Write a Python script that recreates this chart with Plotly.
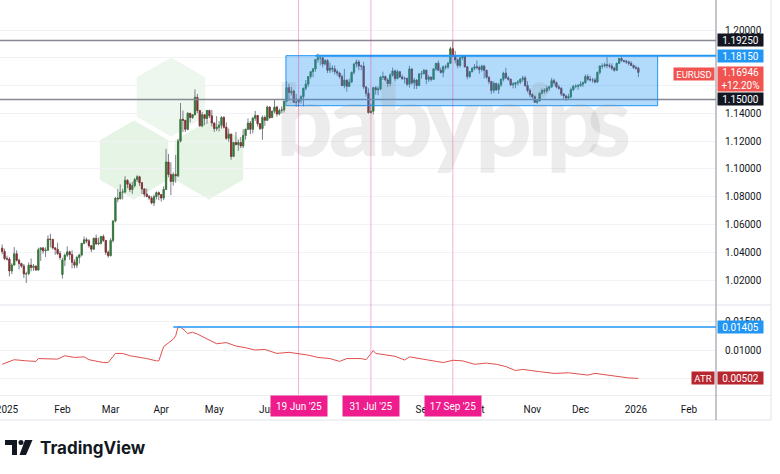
import pandas as pd
import plotly.graph_objects as go

# ---------------- data (EURUSD daily) ----------------
bar_dates = pd.bdate_range("2024-12-30", "2026-01-02")
first_open = 1.0430
gap_opens = {"2025-02-03": 1.0240}

high = [
    1.0456, 1.0425,
    1.0375, 1.0365, 1.0321, 1.0437, 1.0414, 1.0354, 1.0324, 1.0315, 1.0260, 1.0326, 1.0355, 1.0316, 1.0305, 1.0433, 1.0435, 1.0437, 1.0435, 1.0521, 1.0533, 1.0497, 1.0438, 1.0468, 1.0410,
    1.0360, 1.0391, 1.0442, 1.0411, 1.0414, 1.0348, 1.0375, 1.0389, 1.0466, 1.0513, 1.0505, 1.0495, 1.0452, 1.0506, 1.0528, 1.0506, 1.0518, 1.0528, 1.0485, 1.0413,
    1.0500, 1.0630, 1.0796, 1.0854, 1.0888, 1.0856, 1.0947, 1.0925, 1.0903, 1.0906, 1.0935, 1.0955, 1.0951, 1.0905, 1.0862, 1.0859, 1.0812, 1.0805, 1.0815, 1.0838, 1.0838,
    1.0820, 1.0875, 1.1144, 1.1107, 1.1048, 1.0975, 1.1100, 1.1215, 1.1474, 1.1420, 1.1350, 1.1409, 1.1402, 1.1395, 1.1573, 1.1540, 1.1425, 1.1410, 1.1395, 1.1424, 1.1425, 1.1425,
    1.1335, 1.1380, 1.1345, 1.1380, 1.1380, 1.1335, 1.1290, 1.1250, 1.1195, 1.1266, 1.1210, 1.1230, 1.1285, 1.1290, 1.1363, 1.1345, 1.1375, 1.1418, 1.1388, 1.1330, 1.1385, 1.1385,
    1.1455, 1.1450, 1.1420, 1.1495, 1.1455, 1.1435, 1.1450, 1.1490, 1.1631, 1.1613, 1.1590, 1.1570, 1.1540, 1.1500, 1.1530, 1.1585, 1.1640, 1.1665, 1.1705, 1.1725, 1.1790,
    1.1830, 1.1810, 1.1800, 1.1790, 1.1790, 1.1765, 1.1745, 1.1745, 1.1715, 1.1700, 1.1680, 1.1720, 1.1640, 1.1650, 1.1700, 1.1760, 1.1788, 1.1785, 1.1750, 1.1770, 1.1595, 1.1580, 1.1470,
    1.1590, 1.1595, 1.1595, 1.1670, 1.1700, 1.1672, 1.1655, 1.1690, 1.1730, 1.1715, 1.1715, 1.1700, 1.1680, 1.1665, 1.1660, 1.1742, 1.1720, 1.1655, 1.1645, 1.1690, 1.1705,
    1.1720, 1.1715, 1.1675, 1.1665, 1.1725, 1.1760, 1.1780, 1.1730, 1.1745, 1.1750, 1.1770, 1.1878, 1.1918, 1.1850, 1.1795, 1.1805, 1.1820, 1.1818, 1.1740, 1.1705, 1.1730, 1.1755,
    1.1780, 1.1745, 1.1750, 1.1750, 1.1710, 1.1665, 1.1630, 1.1630, 1.1620, 1.1620, 1.1650, 1.1700, 1.1728, 1.1670, 1.1650, 1.1625, 1.1625, 1.1640, 1.1650, 1.1670, 1.1670, 1.1630, 1.1580,
    1.1545, 1.1530, 1.1500, 1.1550, 1.1580, 1.1580, 1.1600, 1.1600, 1.1655, 1.1650, 1.1630, 1.1605, 1.1590, 1.1545, 1.1535, 1.1540, 1.1585, 1.1605, 1.1610, 1.1610,
    1.1630, 1.1630, 1.1680, 1.1680, 1.1670, 1.1655, 1.1655, 1.1700, 1.1745, 1.1760, 1.1765, 1.1805, 1.1760, 1.1760, 1.1735, 1.1765, 1.1800, 1.1808, 1.1785, 1.1785, 1.1780, 1.1775, 1.1750,
    1.1745, 1.1735,
]
low = [
    1.0385, 1.0343,
    1.0340, 1.0226, 1.0242, 1.0303, 1.0333, 1.0276, 1.0287, 1.0214, 1.0178, 1.0235, 1.0262, 1.0267, 1.0267, 1.0265, 1.0338, 1.0390, 1.0366, 1.0410, 1.0435, 1.0420, 1.0381, 1.0380, 1.0345,
    1.0210, 1.0300, 1.0365, 1.0345, 1.0285, 1.0285, 1.0285, 1.0318, 1.0370, 1.0458, 1.0465, 1.0433, 1.0400, 1.0418, 1.0454, 1.0450, 1.0456, 1.0474, 1.0380, 1.0360,
    1.0370, 1.0470, 1.0615, 1.0760, 1.0780, 1.0780, 1.0822, 1.0860, 1.0833, 1.0820, 1.0866, 1.0906, 1.0876, 1.0818, 1.0797, 1.0795, 1.0777, 1.0745, 1.0733, 1.0780, 1.0775,
    1.0765, 1.0775, 1.0850, 1.0940, 1.0811, 1.0880, 1.0900, 1.0940, 1.1190, 1.1265, 1.1265, 1.1278, 1.1334, 1.1360, 1.1385, 1.1400, 1.1305, 1.1300, 1.1315, 1.1325, 1.1366, 1.1305,
    1.1265, 1.1273, 1.1270, 1.1290, 1.1290, 1.1210, 1.1195, 1.1065, 1.1085, 1.1170, 1.1130, 1.1150, 1.1150, 1.1210, 1.1280, 1.1250, 1.1255, 1.1345, 1.1305, 1.1280, 1.1210, 1.1310,
    1.1345, 1.1360, 1.1365, 1.1400, 1.1375, 1.1385, 1.1400, 1.1405, 1.1485, 1.1490, 1.1530, 1.1475, 1.1445, 1.1445, 1.1470, 1.1450, 1.1565, 1.1590, 1.1650, 1.1660, 1.1700,
    1.1765, 1.1745, 1.1730, 1.1745, 1.1690, 1.1690, 1.1695, 1.1680, 1.1670, 1.1650, 1.1595, 1.1580, 1.1556, 1.1590, 1.1620, 1.1680, 1.1730, 1.1710, 1.1710, 1.1575, 1.1520, 1.1400, 1.1400,
    1.1391, 1.1535, 1.1530, 1.1565, 1.1640, 1.1630, 1.1590, 1.1595, 1.1665, 1.1630, 1.1645, 1.1655, 1.1640, 1.1615, 1.1595, 1.1585, 1.1605, 1.1575, 1.1575, 1.1595, 1.1650,
    1.1680, 1.1610, 1.1625, 1.1630, 1.1640, 1.1705, 1.1705, 1.1685, 1.1660, 1.1715, 1.1720, 1.1755, 1.1805, 1.1760, 1.1725, 1.1730, 1.1785, 1.1730, 1.1645, 1.1655, 1.1695, 1.1710,
    1.1715, 1.1685, 1.1700, 1.1650, 1.1650, 1.1610, 1.1540, 1.1545, 1.1560, 1.1540, 1.1590, 1.1630, 1.1650, 1.1635, 1.1595, 1.1580, 1.1580, 1.1600, 1.1610, 1.1625, 1.1590, 1.1550, 1.1515,
    1.1505, 1.1475, 1.1468, 1.1485, 1.1535, 1.1540, 1.1545, 1.1560, 1.1585, 1.1600, 1.1580, 1.1570, 1.1525, 1.1500, 1.1490, 1.1500, 1.1510, 1.1560, 1.1580, 1.1570,
    1.1590, 1.1590, 1.1615, 1.1635, 1.1630, 1.1620, 1.1615, 1.1620, 1.1680, 1.1720, 1.1730, 1.1725, 1.1725, 1.1710, 1.1700, 1.1705, 1.1755, 1.1770, 1.1765, 1.1755, 1.1745, 1.1740, 1.1720,
    1.1715, 1.1660,
]
close = [
    1.0405, 1.0354,
    1.0351, 1.0265, 1.0308, 1.0389, 1.0342, 1.0318, 1.0300, 1.0244, 1.0245, 1.0307, 1.0290, 1.0300, 1.0272, 1.0417, 1.0431, 1.0410, 1.0415, 1.0495, 1.0492, 1.0431, 1.0421, 1.0390, 1.0362,
    1.0344, 1.0379, 1.0403, 1.0382, 1.0328, 1.0307, 1.0362, 1.0380, 1.0464, 1.0490, 1.0482, 1.0447, 1.0422, 1.0500, 1.0460, 1.0465, 1.0513, 1.0485, 1.0400, 1.0375,
    1.0485, 1.0625, 1.0790, 1.0785, 1.0833, 1.0834, 1.0918, 1.0890, 1.0852, 1.0880, 1.0923, 1.0943, 1.0900, 1.0855, 1.0818, 1.0802, 1.0790, 1.0755, 1.0800, 1.0829, 1.0815,
    1.0790, 1.0852, 1.1050, 1.0960, 1.0910, 1.0960, 1.0950, 1.1200, 1.1357, 1.1350, 1.1285, 1.1400, 1.1370, 1.1390, 1.1515, 1.1420, 1.1310, 1.1390, 1.1363, 1.1421, 1.1382, 1.1330,
    1.1290, 1.1300, 1.1315, 1.1370, 1.1300, 1.1220, 1.1250, 1.1090, 1.1190, 1.1175, 1.1190, 1.1165, 1.1240, 1.1285, 1.1330, 1.1285, 1.1365, 1.1385, 1.1325, 1.1290, 1.1370, 1.1350,
    1.1445, 1.1370, 1.1415, 1.1445, 1.1395, 1.1420, 1.1425, 1.1487, 1.1585, 1.1550, 1.1560, 1.1480, 1.1480, 1.1495, 1.1520, 1.1580, 1.1610, 1.1665, 1.1700, 1.1720, 1.1787,
    1.1800, 1.1800, 1.1755, 1.1780, 1.1710, 1.1725, 1.1720, 1.1700, 1.1690, 1.1665, 1.1600, 1.1640, 1.1595, 1.1625, 1.1695, 1.1755, 1.1770, 1.1740, 1.1740, 1.1590, 1.1545, 1.1405, 1.1415,
    1.1585, 1.1570, 1.1575, 1.1660, 1.1665, 1.1640, 1.1615, 1.1675, 1.1705, 1.1650, 1.1700, 1.1662, 1.1650, 1.1650, 1.1610, 1.1720, 1.1620, 1.1640, 1.1600, 1.1683, 1.1685,
    1.1710, 1.1645, 1.1660, 1.1645, 1.1720, 1.1760, 1.1710, 1.1695, 1.1735, 1.1733, 1.1760, 1.1865, 1.1815, 1.1785, 1.1745, 1.1800, 1.1815, 1.1735, 1.1665, 1.1700, 1.1725, 1.1735,
    1.1730, 1.1715, 1.1740, 1.1710, 1.1660, 1.1630, 1.1565, 1.1615, 1.1570, 1.1605, 1.1645, 1.1690, 1.1655, 1.1645, 1.1605, 1.1610, 1.1620, 1.1625, 1.1645, 1.1655, 1.1600, 1.1565, 1.1535,
    1.1520, 1.1480, 1.1490, 1.1545, 1.1565, 1.1560, 1.1580, 1.1590, 1.1635, 1.1620, 1.1590, 1.1580, 1.1540, 1.1525, 1.1510, 1.1520, 1.1570, 1.1595, 1.1595, 1.1600,
    1.1610, 1.1620, 1.1665, 1.1645, 1.1640, 1.1640, 1.1625, 1.1695, 1.1740, 1.1740, 1.1750, 1.1745, 1.1740, 1.1725, 1.1710, 1.1760, 1.1795, 1.1780, 1.1775, 1.1770, 1.1760, 1.1745, 1.1730,
    1.1725, 1.16946,
]

atr_dates = ["2024-12-30", "2025-01-06", "2025-01-13", "2025-01-17", "2025-01-20", "2025-01-24", "2025-01-30",
             "2025-02-04", "2025-02-10", "2025-02-14", "2025-02-18", "2025-02-26", "2025-02-28", "2025-03-05",
             "2025-03-10", "2025-03-13", "2025-03-18", "2025-03-24", "2025-03-28", "2025-03-31", "2025-04-02",
             "2025-04-04", "2025-04-08", "2025-04-09", "2025-04-10", "2025-04-11", "2025-04-14", "2025-04-16",
             "2025-04-18", "2025-04-22", "2025-04-28", "2025-05-02", "2025-05-08", "2025-05-14", "2025-05-20",
             "2025-05-26", "2025-05-30", "2025-06-06", "2025-06-13", "2025-06-19", "2025-06-25", "2025-07-01",
             "2025-07-08", "2025-07-14", "2025-07-17", "2025-07-25", "2025-07-29", "2025-08-01", "2025-08-04",
             "2025-08-14", "2025-08-20", "2025-08-22", "2025-08-28", "2025-09-03", "2025-09-11", "2025-09-17",
             "2025-09-23", "2025-09-30", "2025-10-07", "2025-10-13", "2025-10-17", "2025-10-23", "2025-10-28",
             "2025-11-06", "2025-11-14", "2025-11-24", "2025-12-04", "2025-12-09", "2025-12-18", "2025-12-24",
             "2025-12-29", "2026-01-02"]
atr_vals = [0.0075, 0.0083, 0.0081, 0.0080, 0.0085, 0.0084, 0.0084,
            0.0090, 0.0087, 0.0088, 0.0083, 0.0078, 0.0078, 0.0094,
            0.0094, 0.0090, 0.0088, 0.0085, 0.0081, 0.0081, 0.0106,
            0.0113, 0.0119, 0.0125, 0.01405, 0.0140, 0.0137, 0.0129,
            0.0131, 0.0128, 0.0119, 0.0111, 0.0113, 0.0107, 0.0104,
            0.0100, 0.0101, 0.0094, 0.0096, 0.0094, 0.0091, 0.0087,
            0.0085, 0.0080, 0.0085, 0.0085, 0.0083, 0.0099, 0.0094,
            0.0089, 0.00825, 0.0088, 0.0085, 0.00825, 0.0078, 0.0082,
            0.0081, 0.0075, 0.0077, 0.0075, 0.0071, 0.0064, 0.0066,
            0.0062, 0.0059, 0.0060, 0.0056, 0.0059, 0.0055, 0.0052,
            0.0051, 0.00502]

price_ticks = [1.02, 1.04, 1.06, 1.08, 1.10, 1.12, 1.14, 1.16, 1.18, 1.20]
atr_ticks = [0.005, 0.010, 0.015]
month_ticks = ["2025-01-01", "2025-02-03", "2025-03-03", "2025-04-01", "2025-05-01", "2025-06-02",
               "2025-07-01", "2025-08-01", "2025-09-01", "2025-10-01", "2025-11-03", "2025-12-01",
               "2026-01-01", "2026-02-02"]
month_labels = ["2025", "Feb", "Mar", "Apr", "May", "Jun", "Jul", "Aug", "Sep", "Oct", "Nov", "Dec", "2026", "Feb"]

level_top, level_box_top, level_low = 1.1925, 1.1815, 1.1500
box_bottom = 1.1455
atr_peak = 0.01405
marked_days = [("2025-06-19", "19 Jun '25"), ("2025-07-31", "31 Jul '25"), ("2025-09-17", "17 Sep '25")]
last_price, last_change, last_atr = 1.16946, "+12.20%", 0.00502

# ---------------- derived candle parts ----------------
opens = []
for i, d in enumerate(bar_dates):
    key = d.strftime("%Y-%m-%d")
    opens.append(first_open if i == 0 else gap_opens.get(key, close[i - 1]))
body_hi = [max(o, c) for o, c in zip(opens, close)]
body_lo = [min(o, c) for o, c in zip(opens, close)]

# ---------------- geometry helpers (pixel -> paper) ----------------
W, H = 716.0, 395.0
def PX(v):
    return v / W
def PY(v):
    return 1 - v / H

UP, DN, WICK = "#2e7d32", "#8c2b2b", "#7c7f88"
FONT = "Roboto"
TXT = "#131722"
PINK = "#ee1c8c"

fig = go.Figure()
fig.add_trace(go.Candlestick(
    x=bar_dates, open=opens, high=high, low=low, close=close,
    increasing=dict(line=dict(color=WICK, width=1), fillcolor=WICK),
    decreasing=dict(line=dict(color=WICK, width=1), fillcolor=WICK),
    whiskerwidth=0, xaxis="x", yaxis="y", hoverinfo="skip", showlegend=False))
fig.add_trace(go.Candlestick(
    x=bar_dates, open=opens, high=body_hi, low=body_lo, close=close,
    increasing=dict(line=dict(color=UP, width=0.6), fillcolor=UP),
    decreasing=dict(line=dict(color=DN, width=0.6), fillcolor=DN),
    whiskerwidth=0, xaxis="x", yaxis="y", hoverinfo="skip", showlegend=False))
fig.add_trace(go.Scatter(
    x=pd.to_datetime(atr_dates), y=atr_vals, mode="lines",
    line=dict(color="#e0504c", width=1), xaxis="x", yaxis="y2",
    hoverinfo="skip", showlegend=False))

x_left, x_right = "2024-12-27 02:24", "2026-02-17 05:00"

shapes = []
# watermark hexagons
def hexagon(cx, cy, r, color):
    hw = r * 0.866
    pts = [(cx, cy - r), (cx + hw, cy - r / 2), (cx + hw, cy + r / 2), (cx, cy + r),
           (cx - hw, cy + r / 2), (cx - hw, cy - r / 2)]
    path = "M " + " L ".join(f"{PX(a):.5f},{PY(b):.5f}" for a, b in pts) + " Z"
    return dict(type="path", path=path, xref="paper", yref="paper", fillcolor=color,
                line=dict(width=0), layer="below")
shapes.append(hexagon(171, 97, 39.5, "rgba(76,175,80,0.10)"))
shapes.append(hexagon(134, 160, 39.5, "rgba(76,175,80,0.14)"))
shapes.append(hexagon(209, 160, 39.5, "rgba(76,175,80,0.14)"))

# frame lines
shapes.append(dict(type="line", xref="paper", yref="paper", x0=0, x1=PX(771), y0=PY(305), y1=PY(305),
                   line=dict(color="#e0e3eb", width=1)))
shapes.append(dict(type="line", xref="paper", yref="paper", x0=0, x1=PX(771), y0=PY(395.5), y1=PY(395.5),
                   line=dict(color="#eceef2", width=1)))
shapes.append(dict(type="line", xref="paper", yref="paper", x0=0, x1=PX(771), y0=PY(420), y1=PY(420),
                   line=dict(color="#e0e3eb", width=1)))
shapes.append(dict(type="line", xref="paper", yref="paper", x0=PX(771), x1=PX(771), y0=1, y1=PY(420),
                   line=dict(color="#e0e3eb", width=1)))
shapes.append(dict(type="line", xref="paper", yref="paper", x0=1, x1=1, y0=1, y1=PY(420),
                   line=dict(color="#8a8d96", width=1)))

# horizontal levels
for lv in (level_top, level_low):
    shapes.append(dict(type="line", xref="paper", yref="y", x0=0, x1=1, y0=lv, y1=lv,
                       line=dict(color="#868993", width=1.5)))
# range rectangle
shapes.append(dict(type="rect", xref="x", yref="y", x0="2025-06-11 18:00", x1="2026-01-14",
                   y0=box_bottom, y1=level_box_top, fillcolor="rgba(33,150,243,0.35)",
                   line=dict(color="#2196f3", width=1)))
shapes.append(dict(type="line", xref="x", yref="y", x0="2025-06-30", x1=x_right,
                   y0=level_box_top, y1=level_box_top, line=dict(color="#2196f3", width=2)))
# ATR ray
shapes.append(dict(type="line", xref="x", yref="y2", x0="2025-04-08", x1=x_right,
                   y0=atr_peak, y1=atr_peak, line=dict(color="#2196f3", width=1.5)))
# marked days
for d, _ in marked_days:
    shapes.append(dict(type="line", xref="x", yref="paper", x0=d, x1=d, y0=0, y1=1,
                       line=dict(color="rgba(238,28,140,0.35)", width=1)))

# TradingView logo
def poly(pts):
    return "M " + " L ".join(f"{PX(a):.5f},{PY(b):.5f}" for a, b in pts) + " Z"
shapes.append(dict(type="path", xref="paper", yref="paper",
                   path=poly([(5, 440), (17, 440), (17, 455), (12, 455), (12, 445), (5, 445)]),
                   fillcolor=TXT, line=dict(width=0)))
shapes.append(dict(type="circle", xref="paper", yref="paper", x0=PX(18.5), x1=PX(23.5),
                   y0=PY(445), y1=PY(440), fillcolor=TXT, line=dict(width=0)))
shapes.append(dict(type="path", xref="paper", yref="paper",
                   path=poly([(25, 440), (32.5, 440), (26, 455), (19.5, 455)]),
                   fillcolor=TXT, line=dict(width=0)))

annotations = []
# babypips watermark
for ch, cx in zip("babypips", [304, 354, 404, 453, 503, 540, 574, 609]):
    annotations.append(dict(text=ch, x=PX(cx), y=PY(117), xref="paper", yref="paper",
                            xanchor="center", yanchor="middle", showarrow=False,
                            font=dict(family="Lato", size=100, color="rgba(140,140,140,0.17)", weight=900)))

def axis_label(text, y, yref, bg, x=717, anchor="left", w=45, h=12, size=10):
    return dict(text=text, x=PX(x), xref="paper", xanchor=anchor, y=y, yref=yref, yanchor="middle",
                showarrow=False, bgcolor=bg, borderpad=0, width=w, height=h, align="center",
                font=dict(family=FONT, size=size, color="white"))

annotations.append(axis_label(f"{level_top:.5f}", level_top, "y", TXT))
annotations.append(axis_label(f"{level_box_top:.5f}", level_box_top, "y", "#2196f3"))
annotations.append(axis_label(f"{level_low:.5f}", level_low, "y", TXT))
annotations.append(axis_label(f"{last_price:.5f}<br>{last_change}", 1.16472, "y", "#f05350", h=24))
annotations.append(axis_label("EURUSD", 1.16832, "y", "#f05350", x=715, anchor="right", w=40, size=9.5))
annotations.append(axis_label(f"{atr_peak:.5f}", atr_peak, "y2", "#2196f3"))
annotations.append(axis_label(f"{last_atr:.5f}", last_atr, "y2", "#b8262f"))
annotations.append(axis_label("ATR", last_atr, "y2", "#b8262f", x=715, anchor="right", w=22, size=9.5))

for d, txt in marked_days:
    annotations.append(dict(text=txt, x=d, xref="x", y=PY(406), yref="paper", xanchor="center",
                            yanchor="middle", showarrow=False, bgcolor=PINK, borderpad=0,
                            width=56, height=20, font=dict(family=FONT, size=10, color="white")))

annotations.append(dict(text="TradingView", x=PX(38), y=PY(447.5), xref="paper", yref="paper",
                        xanchor="left", yanchor="middle", showarrow=False,
                        font=dict(family="Inter", size=17, color=TXT, weight=700)))

fig.update_layout(
    width=780, height=474,
    margin=dict(l=0, r=64, t=0, b=79),
    paper_bgcolor="white", plot_bgcolor="white",
    showlegend=False, hovermode=False,
    font=dict(family=FONT, size=10, color=TXT),
    xaxis=dict(type="date", range=[x_left, x_right], rangebreaks=[dict(bounds=["sat", "mon"])],
               anchor="y2", domain=[0, 1], tickvals=month_ticks, ticktext=month_labels,
               ticks="outside", ticklen=5, tickcolor="rgba(0,0,0,0)", showgrid=False,
               showline=False, zeroline=False, rangeslider=dict(visible=False),
               ticklabeloverflow="allow",
               tickfont=dict(family=FONT, size=10, color=TXT), automargin=False),
    yaxis=dict(domain=[1 - 303 / 395, 1], range=[1.00345, 1.2216], side="right", anchor="x",
               tickvals=price_ticks, ticktext=[f"{v:.5f}" for v in price_ticks],
               ticks="outside", ticklen=6, tickcolor="rgba(0,0,0,0)",
               gridcolor="#f0f2f6", showline=False, zeroline=False,
               tickfont=dict(family=FONT, size=10, color=TXT), automargin=False),
    yaxis2=dict(domain=[0, 1 - 306 / 395], range=[0.00211, 0.01772], side="right", anchor="x",
                tickvals=atr_ticks, ticktext=[f"{v:.5f}" for v in atr_ticks],
                ticks="outside", ticklen=6, tickcolor="rgba(0,0,0,0)",
                gridcolor="#f0f2f6", showline=False, zeroline=False,
                tickfont=dict(family=FONT, size=10, color=TXT), automargin=False),
    shapes=shapes,
    annotations=annotations,
)

fig.write_html("out.html", config={"displayModeBar": False, "staticPlot": True},
               post_script="document.body.style.margin='0';document.body.style.overflow='hidden';")
